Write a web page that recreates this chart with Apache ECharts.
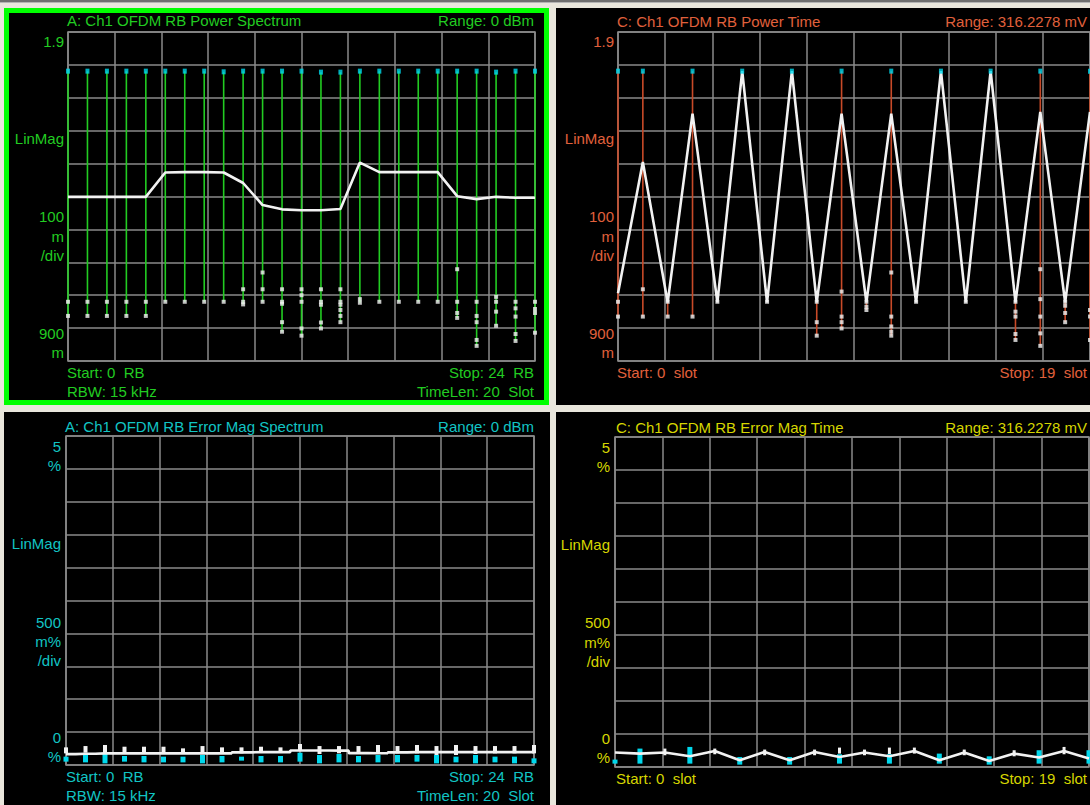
<!DOCTYPE html>
<html>
<head>
<meta charset="utf-8">
<script src="https://cdn.jsdelivr.net/npm/echarts@6/dist/echarts.min.js"></script>
<style>html,body{margin:0;padding:0;background:#e9e6dc;}#c{width:1090px;height:805px;}</style>
</head>
<body>
<div id="c"></div>
<script>
// ---------- data ----------
const rbIndex = [0,1,2,3,4,5,6,7,8,9,10,11,12,13,14,15,16,17,18,19,20,21,22,23,24];
const slotIndex = [0,1,2,3,4,5,6,7,8,9,10,11,12,13,14,15,16,17,18,19];

// A: RB power spectrum (LinMag)
const specMax = [1.781,1.781,1.781,1.781,1.781,1.781,1.781,1.781,1.779,1.781,1.781,1.781,1.781,1.778,1.778,1.781,1.781,1.781,1.781,1.781,1.781,1.781,1.778,1.781,1.781];
const specAvg = [1.399,1.399,1.399,1.399,1.399,1.473,1.474,1.474,1.473,1.441,1.374,1.361,1.358,1.358,1.362,1.503,1.474,1.474,1.474,1.474,1.401,1.392,1.399,1.396,1.396];
const specPoints = [
  [1.080,1.037],[1.080,1.037],[1.080,1.037],[1.080,1.037],[1.080,1.037],
  [1.080],[1.080],[1.080],[1.080],
  [1.118,1.080,1.072],
  [1.169,1.118,1.080],
  [1.118,1.080,1.074,1.018,0.989],
  [1.118,1.100,1.080,0.999,0.977],
  [1.118,1.080,1.071,1.017,0.999],
  [1.118,1.080,1.071,1.055,1.037,1.018],
  [1.088,1.077],
  [1.080],[1.080],[1.080],[1.080],
  [1.179,1.080,1.046,1.031],
  [1.080,1.037,1.018,0.964,0.946],
  [1.095,1.080,1.050,1.007],
  [1.080,1.060,1.035,0.982,0.961],
  [1.080,1.058,1.046,0.986]
];

// C: RB power vs time (LinMag)
const timeMax = [1.781,1.781,null,1.781,null,1.781,null,1.781,null,1.781,null,1.781,null,1.781,null,1.781,null,1.781,null,1.781];
const timeAvg = [1.106,1.505,1.078,1.652,1.078,1.781,1.078,1.781,1.078,1.652,1.078,1.652,1.078,1.781,1.078,1.781,1.078,1.657,1.078,1.657];
const timePoints = [
  [1.080,1.035],[1.118,1.035],[1.080,1.035],[1.035],[1.080],[],[1.080],[],
  [1.080,1.018,0.977],[1.111,1.035,1.018,0.999],[1.080,1.065,1.055],
  [1.169,1.035,1.005,0.989,0.977],[1.080],[],[1.080],[],
  [1.080,1.050,1.035,0.982,0.964],[1.179,1.088,1.035,0.984,0.946],
  [1.080,1.068,1.046,1.018],[1.055,1.035,0.964]
];

// B: RB error magnitude spectrum (%)
const errSpecAvg = [0.165,0.172,0.177,0.177,0.177,0.177,0.177,0.177,0.177,0.192,0.195,0.195,0.220,0.220,0.218,0.180,0.178,0.192,0.195,0.195,0.195,0.195,0.195,0.195,0.195];
const errSpecWhiteTop = [0.268,0.288,0.304,0.278,0.278,0.278,0.253,0.288,0.268,0.268,0.278,0.268,0.319,0.288,0.288,0.288,0.304,0.288,0.304,0.288,0.304,0.288,0.288,0.288,0.304];
const errSpecWhiteBot = [0.177,0.187,0.177,0.177,0.177,0.177,0.177,0.177,0.177,0.177,0.187,0.187,0.218,0.167,0.177,0.167,0.177,0.177,0.177,0.152,0.152,0.167,0.177,0.177,0.177];
const errSpecCyanTop = [0.127,0.152,0.167,0.137,0.137,0.127,0.127,0.152,0.137,0.127,0.137,0.137,0.187,0.152,0.167,0.137,0.152,0.152,0.152,0.152,0.127,0.152,0.127,0.127,0.101];
const errSpecCyanBot = [0.051,0.040,0.025,0.051,0.040,0.040,0.040,0.025,0.040,0.066,0.040,0.040,0.051,0.025,0.040,0.040,0.040,0.040,0.051,0.025,0.040,0.025,0.040,0.025,0.025];

// D: RB error magnitude vs time (%)
const errTimeAvg = [0.219,0.203,0.219,0.162,0.243,0.102,0.228,0.102,0.228,0.152,0.219,0.162,0.243,0.102,0.219,0.091,0.203,0.143,0.243,0.128];
const errTimeWhiteTop = [null,null,0.279,null,0.279,null,0.264,null,0.264,0.294,0.264,0.294,0.294,null,0.264,null,0.254,null,0.304,null];
const errTimeWhiteBot = [null,null,0.178,null,0.193,null,0.178,null,0.178,0.203,0.178,0.193,0.203,null,0.178,null,0.162,null,0.193,null];
const errTimeCyanTop = [0.112,0.279,null,0.304,null,0.152,null,0.152,null,0.193,null,0.193,null,0.203,null,0.162,null,0.254,null,0.254];
const errTimeCyanBot = [0.051,0.051,null,0.051,null,0.036,null,0.036,null,0.051,null,0.051,null,0.051,null,0.036,null,0.051,null,0.051];

// ---------- styling ----------
const FONT = '15px "Liberation Sans", Arial, sans-serif';
const GREEN = '#22cc22', ORANGE = '#e0603c', TEAL = '#12c4c4', YELLOW = '#d6d600';
const CYAN = '#00d8ec', WHITE = '#f2f2f2', GRIDC = '#8a8a8a';

function txt(t, x, y, align, color) {
  return {type: 'text', z: 100, x: x, y: y,
    style: {text: t, fill: color, font: FONT, textAlign: align, textVerticalAlign: 'middle', align: align, verticalAlign: 'middle'}};
}
function rect(x, y, w, h, fill) {
  return {type: 'rect', z: -10, shape: {x: x, y: y, width: w, height: h}, style: {fill: fill}};
}

const graphics = [
  rect(0, 0, 1090, 2, '#6e6e6e'), rect(0, 2, 1090, 1, '#b4b4b4'),
  rect(4, 8, 545, 397, '#00ff00'), rect(9, 13, 535, 387, '#000000'),
  rect(556, 8, 540, 397, '#000000'),
  rect(4, 412, 546, 400, '#000000'),
  rect(556, 412, 540, 400, '#000000'),
  // Panel A
  txt('A: Ch1 OFDM RB Power Spectrum', 67, 20, 'left', GREEN),
  txt('Range: 0 dBm', 534, 20, 'right', GREEN),
  txt('1.9', 64, 41, 'right', GREEN), txt('LinMag', 64, 138, 'right', GREEN),
  txt('100', 64, 216, 'right', GREEN), txt('m', 64, 236, 'right', GREEN), txt('/div', 64, 255, 'right', GREEN),
  txt('900', 64, 333, 'right', GREEN), txt('m', 64, 352, 'right', GREEN),
  txt('Start: 0  RB', 67, 372, 'left', GREEN), txt('RBW: 15 kHz', 67, 391, 'left', GREEN),
  txt('Stop: 24  RB', 534, 372, 'right', GREEN), txt('TimeLen: 20  Slot', 534, 391, 'right', GREEN),
  // Panel C
  txt('C: Ch1 OFDM RB Power Time', 617, 21, 'left', ORANGE),
  txt('Range: 316.2278 mV', 1087, 21, 'right', ORANGE),
  txt('1.9', 614, 41, 'right', ORANGE), txt('LinMag', 614, 138, 'right', ORANGE),
  txt('100', 614, 216, 'right', ORANGE), txt('m', 614, 236, 'right', ORANGE), txt('/div', 614, 255, 'right', ORANGE),
  txt('900', 614, 333, 'right', ORANGE), txt('m', 614, 352, 'right', ORANGE),
  txt('Start: 0  slot', 617, 372, 'left', ORANGE), txt('Stop: 19  slot', 1087, 372, 'right', ORANGE),
  // Panel B
  txt('A: Ch1 OFDM RB Error Mag Spectrum', 65, 426, 'left', TEAL),
  txt('Range: 0 dBm', 534, 426, 'right', TEAL),
  txt('5', 61, 446, 'right', TEAL), txt('%', 61, 465, 'right', TEAL), txt('LinMag', 61, 543, 'right', TEAL),
  txt('500', 61, 622, 'right', TEAL), txt('m%', 61, 641, 'right', TEAL), txt('/div', 61, 660, 'right', TEAL),
  txt('0', 61, 737, 'right', TEAL), txt('%', 61, 756, 'right', TEAL),
  txt('Start: 0  RB', 66, 776, 'left', TEAL), txt('RBW: 15 kHz', 66, 795, 'left', TEAL),
  txt('Stop: 24  RB', 534, 776, 'right', TEAL), txt('TimeLen: 20  Slot', 534, 795, 'right', TEAL),
  // Panel D
  txt('C: Ch1 OFDM RB Error Mag Time', 616, 427, 'left', YELLOW),
  txt('Range: 316.2278 mV', 1087, 427, 'right', YELLOW),
  txt('5', 610, 447, 'right', YELLOW), txt('%', 610, 466, 'right', YELLOW), txt('LinMag', 610, 544, 'right', YELLOW),
  txt('500', 610, 622, 'right', YELLOW), txt('m%', 610, 642, 'right', YELLOW), txt('/div', 610, 661, 'right', YELLOW),
  txt('0', 610, 738, 'right', YELLOW), txt('%', 610, 757, 'right', YELLOW),
  txt('Start: 0  slot', 616, 778, 'left', YELLOW), txt('Stop: 19  slot', 1087, 778, 'right', YELLOW)
];

// ---------- helpers ----------
function stemRender(color, width) {
  return function (params, api) {
    const p1 = api.coord([api.value(0), api.value(1)]);
    const p2 = api.coord([api.value(0), api.value(2)]);
    return {type: 'line', shape: {x1: p1[0], y1: p1[1], x2: p2[0], y2: p2[1]}, style: {stroke: color, lineWidth: width}};
  };
}
function barRender(color, w) {
  return function (params, api) {
    const p1 = api.coord([api.value(0), api.value(1)]);
    const p2 = api.coord([api.value(0), api.value(2)]);
    return {type: 'rect', shape: {x: p1[0] - w / 2, y: p2[1], width: w, height: p1[1] - p2[1]}, style: {fill: color}};
  };
}
function rangeData(xs, lo, hi) {
  const out = [];
  xs.forEach((x, i) => { if (lo[i] != null && hi[i] != null) out.push([x, lo[i], hi[i]]); });
  return out;
}
function flatPoints(xs, pts) {
  const out = [];
  xs.forEach((x, i) => pts[i].forEach(v => out.push([x, v])));
  return out;
}

const grids = [
  {left: 68, top: 32, width: 467, height: 329},
  {left: 618, top: 32, width: 473, height: 329},
  {left: 66, top: 436, width: 468, height: 329},
  {left: 615, top: 437, width: 474, height: 330}
].map(g => Object.assign(g, {show: true, borderColor: GRIDC, borderWidth: 1.5, backgroundColor: 'transparent', containLabel: false}));

const axisBase = {axisLine: {show: false}, axisTick: {show: false}, axisLabel: {show: false},
  splitLine: {show: true, lineStyle: {color: GRIDC, width: 1.5}}};
const xAxes = [
  Object.assign({type: 'value', gridIndex: 0, min: 0, max: 24, interval: 2.4}, axisBase),
  Object.assign({type: 'value', gridIndex: 1, min: 0, max: 19, interval: 1.9}, axisBase),
  Object.assign({type: 'value', gridIndex: 2, min: 0, max: 24, interval: 2.4}, axisBase),
  Object.assign({type: 'value', gridIndex: 3, min: 0, max: 19, interval: 1.9}, axisBase)
];
const yAxes = [
  Object.assign({type: 'value', gridIndex: 0, min: 0.9, max: 1.9, interval: 0.1}, axisBase),
  Object.assign({type: 'value', gridIndex: 1, min: 0.9, max: 1.9, interval: 0.1}, axisBase),
  Object.assign({type: 'value', gridIndex: 2, min: 0, max: 5, interval: 0.5}, axisBase),
  Object.assign({type: 'value', gridIndex: 3, min: 0, max: 5, interval: 0.5}, axisBase)
];

// stems: from lowest point to max marker
const specStem = rbIndex.map((x, i) => [x, Math.min.apply(null, specPoints[i].concat([specAvg[i]])), specMax[i]]);
const timeStem = slotIndex.map((x, i) => [x, Math.min.apply(null, timePoints[i].concat([timeAvg[i]])), timeMax[i] != null ? timeMax[i] : timeAvg[i]]);

const series = [
  // A
  {type: 'custom', xAxisIndex: 0, yAxisIndex: 0, renderItem: stemRender('#22cc22', 1.6), data: specStem, encode: {x: 0, y: [1, 2]}, z: 2},
  {type: 'scatter', xAxisIndex: 0, yAxisIndex: 0, symbol: 'rect', symbolSize: 4, itemStyle: {color: WHITE}, data: flatPoints(rbIndex, specPoints), z: 3},
  {type: 'line', xAxisIndex: 0, yAxisIndex: 0, showSymbol: false, lineStyle: {color: WHITE, width: 2.6}, data: rbIndex.map((x, i) => [x, specAvg[i]]), z: 4},
  {type: 'scatter', xAxisIndex: 0, yAxisIndex: 0, symbol: 'rect', symbolSize: [4, 5], itemStyle: {color: CYAN}, data: rbIndex.map((x, i) => [x, specMax[i]]), z: 5},
  // C
  {type: 'custom', xAxisIndex: 1, yAxisIndex: 1, renderItem: stemRender('#c84a28', 1.6), data: timeStem, encode: {x: 0, y: [1, 2]}, z: 2},
  {type: 'scatter', xAxisIndex: 1, yAxisIndex: 1, symbol: 'rect', symbolSize: 4, itemStyle: {color: WHITE}, data: flatPoints(slotIndex, timePoints), z: 3},
  {type: 'line', xAxisIndex: 1, yAxisIndex: 1, showSymbol: false, lineStyle: {color: WHITE, width: 2.6}, data: slotIndex.map((x, i) => [x, timeAvg[i]]), z: 4},
  {type: 'scatter', xAxisIndex: 1, yAxisIndex: 1, symbol: 'rect', symbolSize: [4, 5], itemStyle: {color: CYAN},
    data: slotIndex.filter((x, i) => timeMax[i] != null).map(x => [x, timeMax[x]]), z: 5},
  // B
  {type: 'custom', xAxisIndex: 2, yAxisIndex: 2, renderItem: barRender(WHITE, 4), data: rangeData(rbIndex, errSpecWhiteBot, errSpecWhiteTop), encode: {x: 0, y: [1, 2]}, z: 2},
  {type: 'custom', xAxisIndex: 2, yAxisIndex: 2, renderItem: barRender(CYAN, 5), data: rangeData(rbIndex, errSpecCyanBot, errSpecCyanTop), encode: {x: 0, y: [1, 2]}, z: 2},
  {type: 'line', xAxisIndex: 2, yAxisIndex: 2, step: 'middle', showSymbol: false, lineStyle: {color: WHITE, width: 2.6}, data: rbIndex.map((x, i) => [x, errSpecAvg[i]]), z: 4},
  // D
  {type: 'custom', xAxisIndex: 3, yAxisIndex: 3, renderItem: barRender(WHITE, 3), data: rangeData(slotIndex, errTimeWhiteBot, errTimeWhiteTop), encode: {x: 0, y: [1, 2]}, z: 2},
  {type: 'custom', xAxisIndex: 3, yAxisIndex: 3, renderItem: barRender(CYAN, 5), data: rangeData(slotIndex, errTimeCyanBot, errTimeCyanTop), encode: {x: 0, y: [1, 2]}, z: 2},
  {type: 'line', xAxisIndex: 3, yAxisIndex: 3, showSymbol: false, lineStyle: {color: WHITE, width: 2.6}, data: slotIndex.map((x, i) => [x, errTimeAvg[i]]), z: 4}
];

const chart = echarts.init(document.getElementById('c'), null, {renderer: 'svg'});
chart.setOption({
  backgroundColor: '#e9e6dc',
  animation: false,
  graphic: graphics,
  grid: grids,
  xAxis: xAxes,
  yAxis: yAxes,
  series: series
});
</script>
</body>
</html>
